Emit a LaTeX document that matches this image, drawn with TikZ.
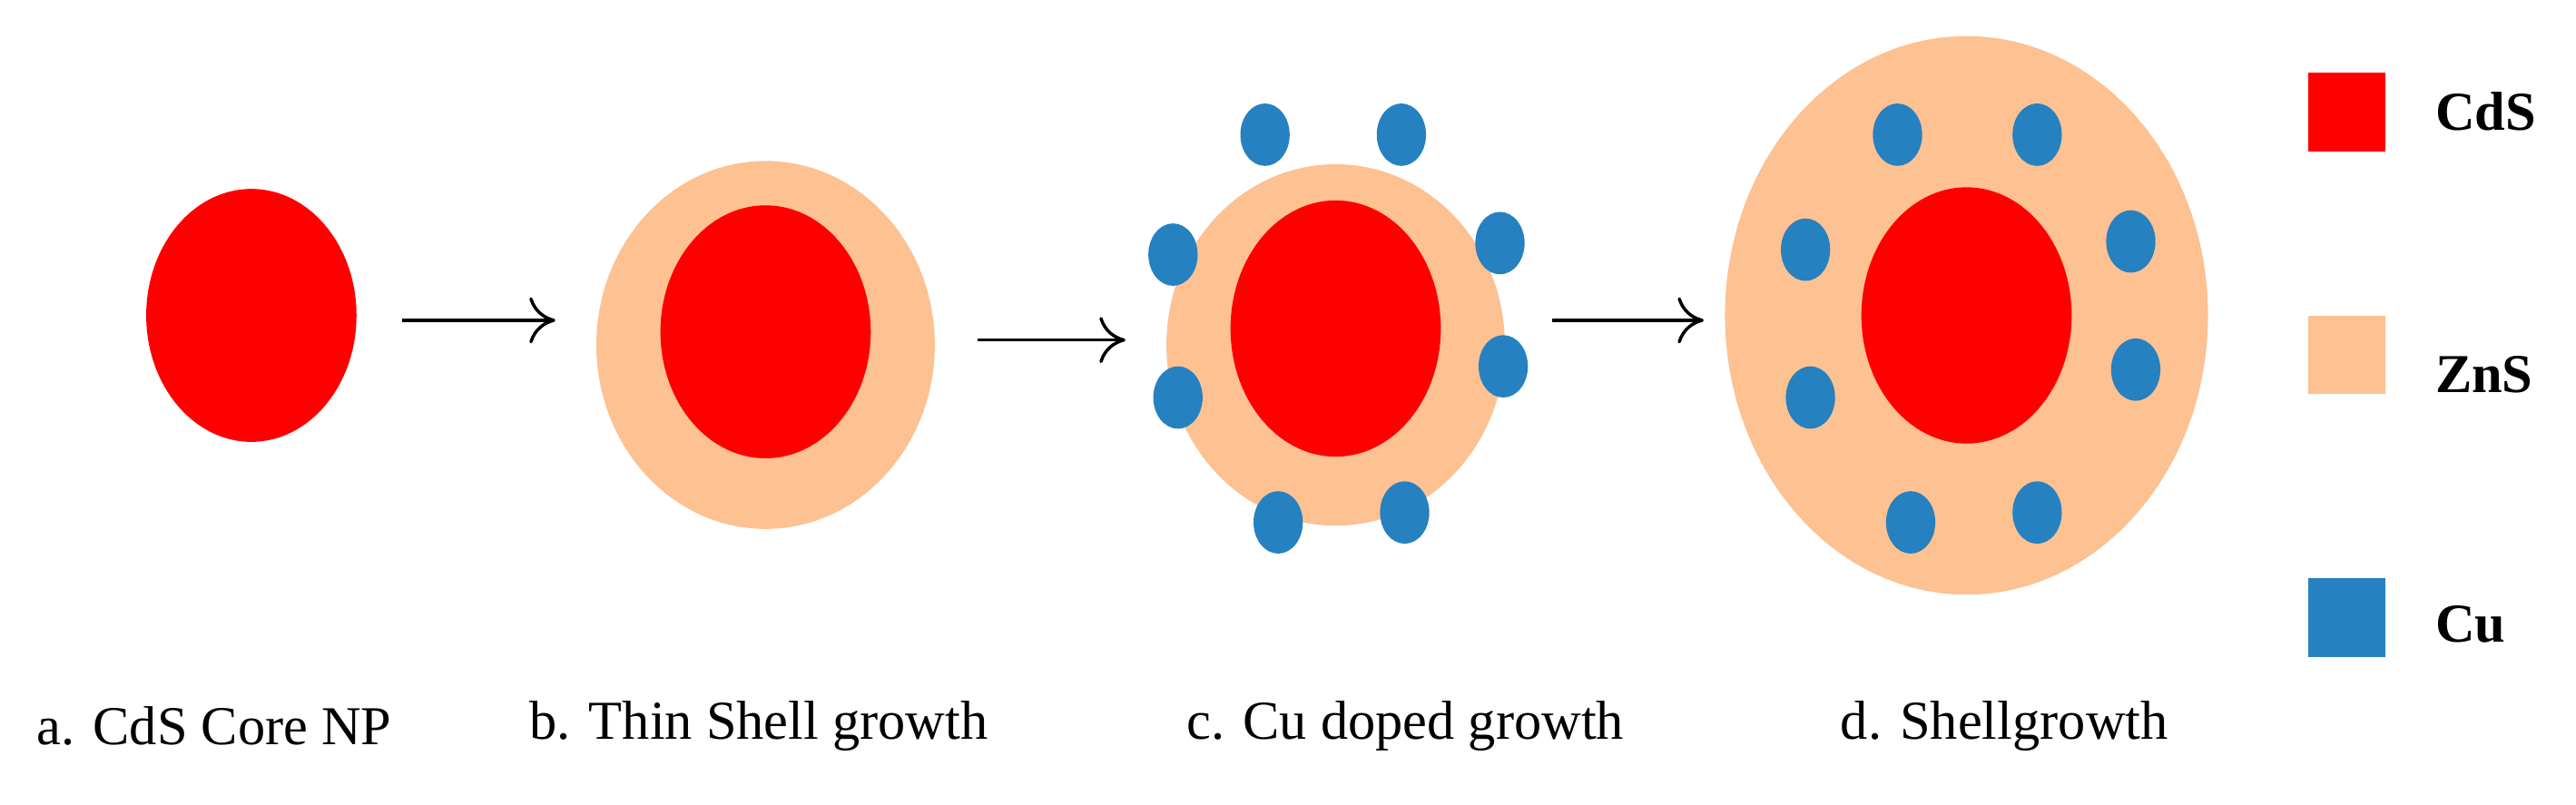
\documentclass[tikz,border=0pt]{standalone}
\usepackage{fontspec}
\setmainfont{Liberation Serif}
\usetikzlibrary{arrows.meta}
\definecolor{cds}{HTML}{FF0000}
\definecolor{zns}{HTML}{FDC192}
\definecolor{cu}{HTML}{2681C0}
\begin{document}
\begin{tikzpicture}[x=0.02cm,y=-0.02cm,
  core/.style={fill=cds,draw=none},
  shell/.style={fill=zns,draw=none},
  dot/.style={fill=cu,draw=none},
  conn/.style={-{To[length=9pt,width=16pt]},line width=1.1pt},
  lab/.style={font=\fontsize{19}{22}\selectfont,anchor=west,inner sep=0},
  leg/.style={font=\fontsize{19}{22}\selectfont\bfseries,anchor=west,inner sep=0}]
\useasboundingbox (0,0) rectangle (1568,490);
% a
\fill[core] (153,192) ellipse (64 and 77);
% b
\fill[shell] (466,210) ellipse (103 and 112);
\fill[core] (466,202) ellipse (64 and 77);
% c
\fill[shell] (813,210) ellipse (103 and 110);
\fill[core] (813,200) ellipse (64 and 78);
\foreach \p in {(770,82),(853,82),(714,155),(913,148),(717,242),(915,223),(778,318),(855,312)}
  \fill[dot] \p ellipse (15 and 19);
% d
\fill[shell] (1197,192) ellipse (147 and 170);
\fill[core] (1197,192) ellipse (64 and 78);
\foreach \p in {(1155,82),(1240,82),(1099,152),(1297,147),(1102,242),(1300,225),(1163,318),(1240,312)}
  \fill[dot] \p ellipse (15 and 19);
% arrows
\coordinate (a1) at (245,195); \coordinate (a2) at (338,195);
\coordinate (b1) at (595,207); \coordinate (b2) at (685,207);
\coordinate (c1) at (945,195); \coordinate (c2) at (1037,195);
\draw[conn] (a1) -- (a2);
\draw[conn] (b1) -- (b2);
\draw[conn] (c1) -- (c2);
% legend
\fill[core] (1405,44) rectangle (1452,92);
\fill[shell] (1405,192) rectangle (1452,240);
\fill[dot] (1405,352) rectangle (1452,400);
\node[leg] (l1) at (1482,68) {CdS};
\node[leg] (l2) at (1482,228) {ZnS};
\node[leg] (l3) at (1482,380) {Cu};
% labels
\node[lab] (ta) at (22,442) {a. CdS Core NP};
\node[lab] (tb) at (322,442) {b. Thin Shell growth};
\node[lab] (tc) at (722,442) {c. Cu doped growth};
\node[lab] (td) at (1120,442) {d. Shellgrowth};
\end{tikzpicture}
\end{document}
